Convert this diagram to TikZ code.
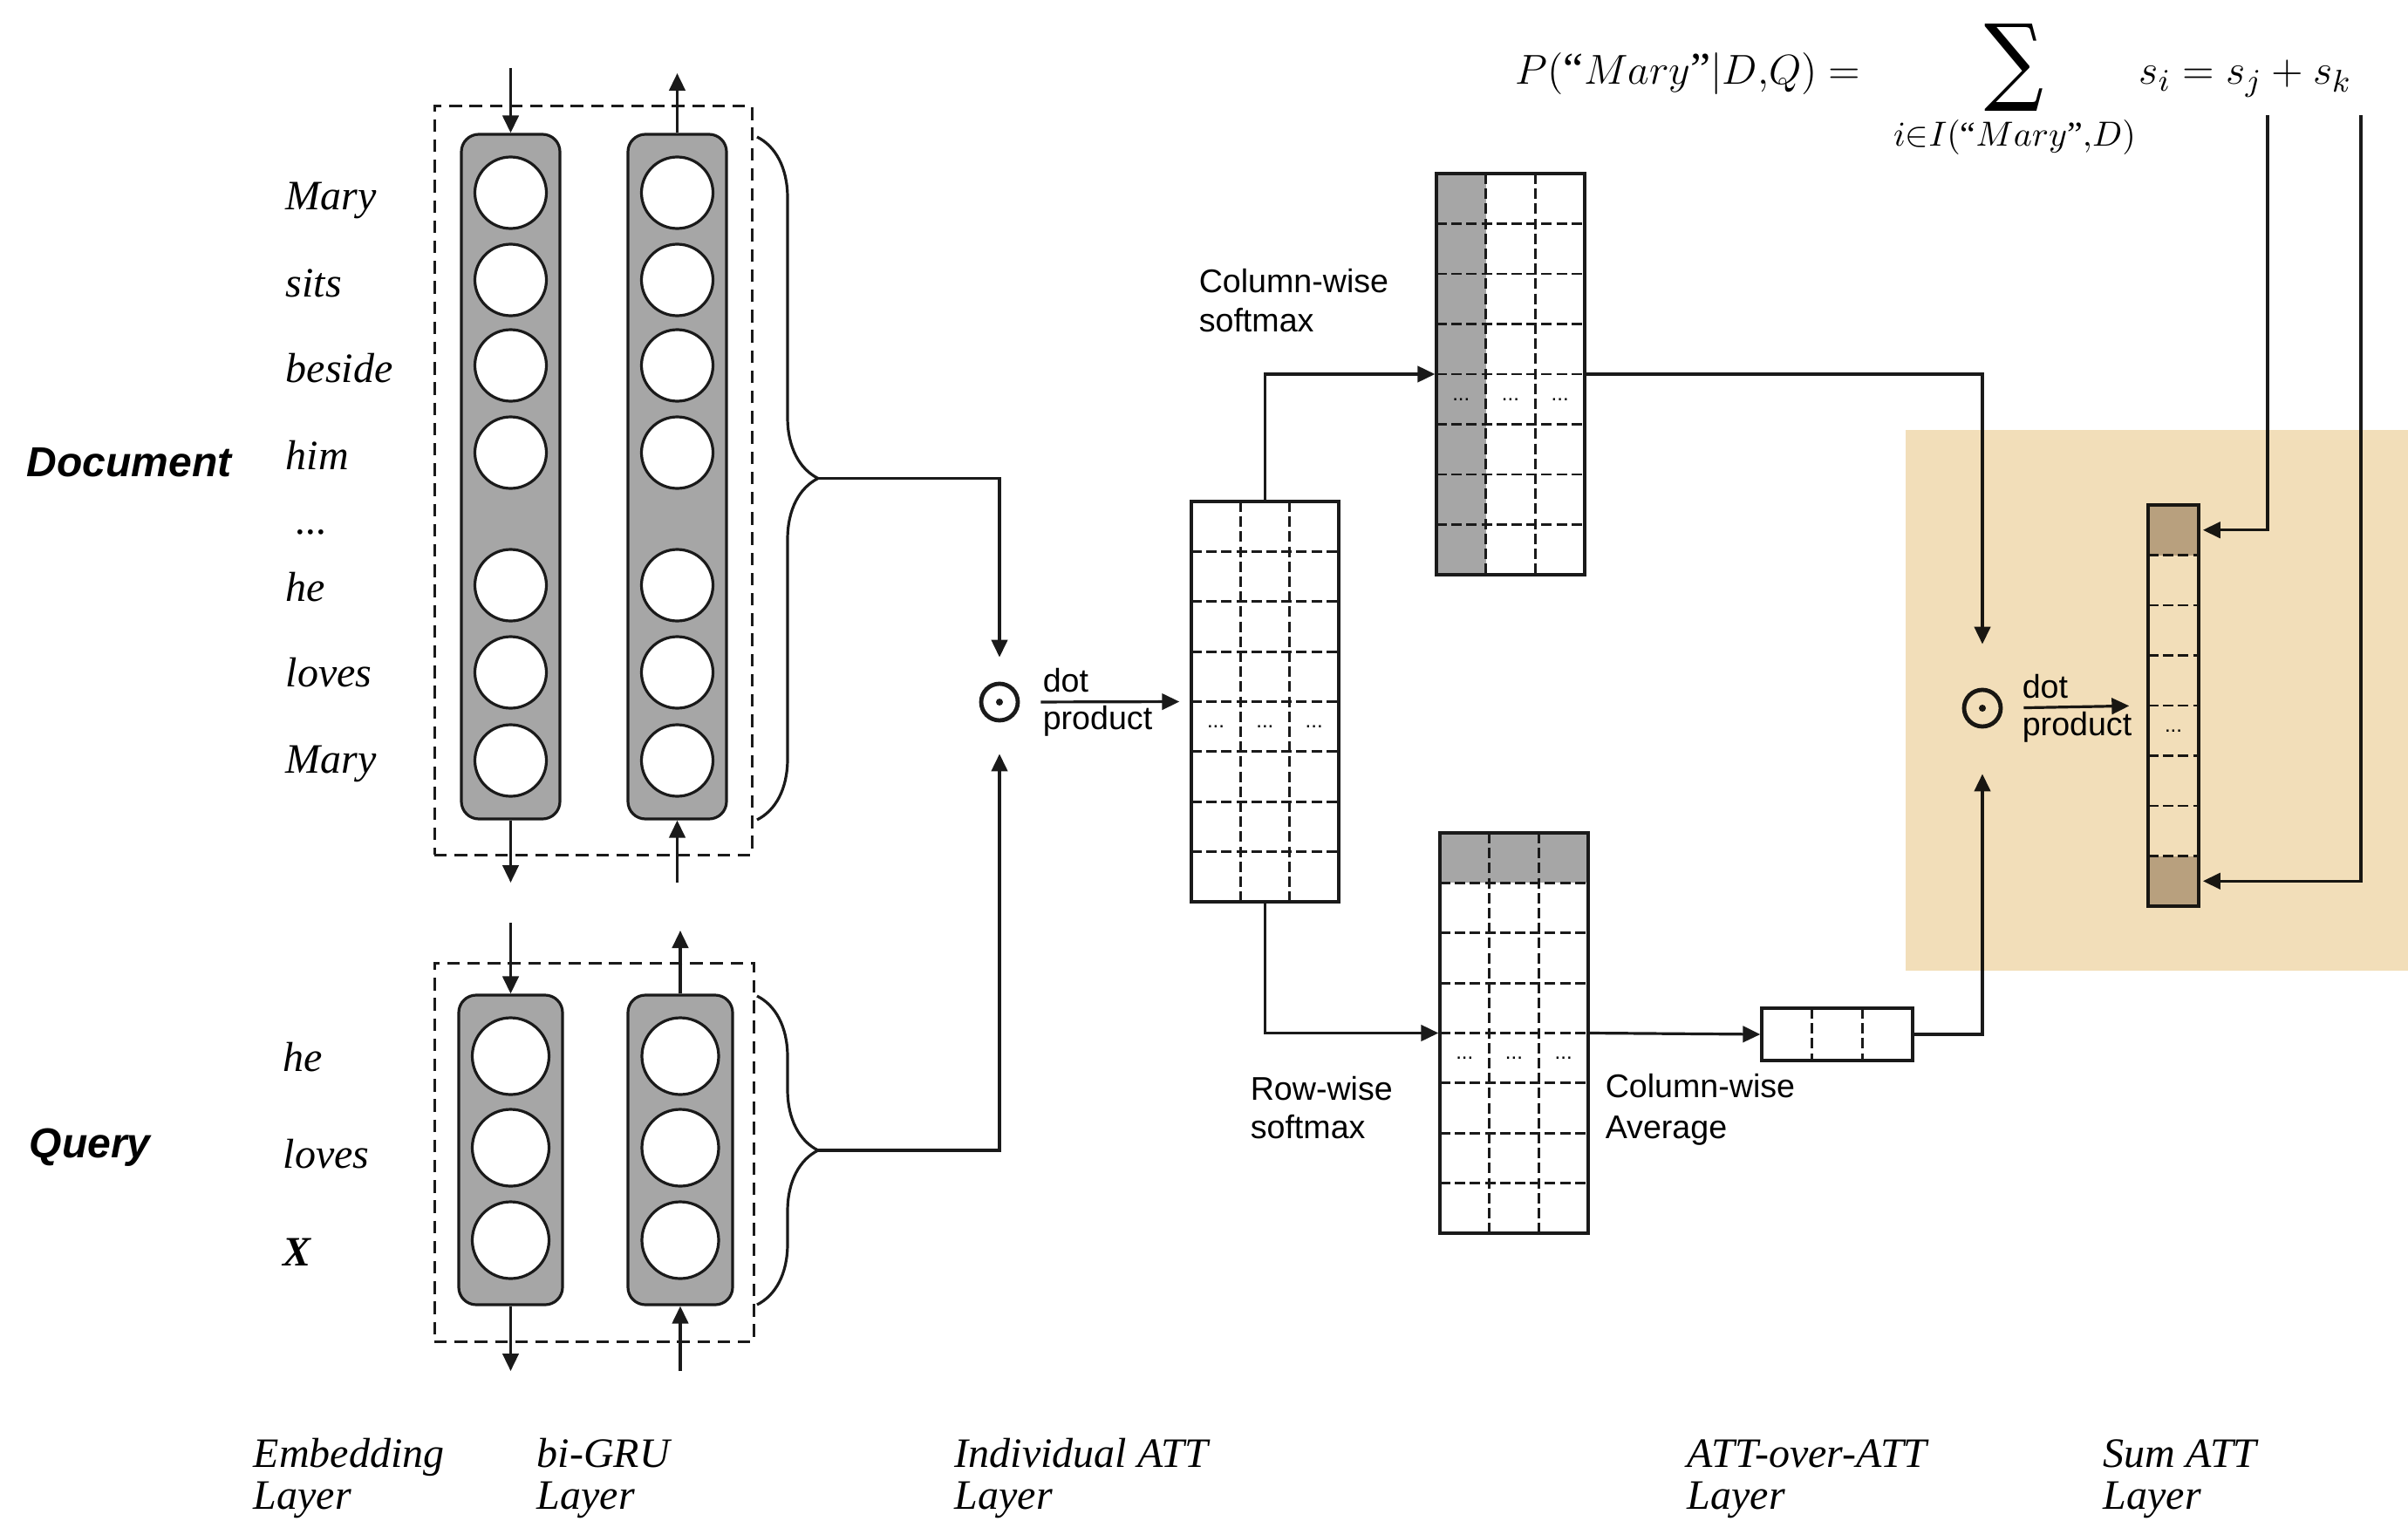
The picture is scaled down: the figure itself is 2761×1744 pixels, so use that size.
\documentclass[tikz,border=0pt]{standalone}
\usepackage{fontspec}
\usepackage{amsmath}
\usepackage{graphicx}
\setmainfont{Liberation Serif}
\setsansfont{Liberation Sans}
\newfontfamily\symfont{DejaVu Serif}
\usetikzlibrary{arrows.meta,decorations.pathreplacing,fit,calc}
\definecolor{grufill}{HTML}{A6A6A6}
\definecolor{cellgray}{HTML}{A6A6A6}
\definecolor{sumcell}{HTML}{C2B8AE}
\definecolor{sumbg}{HTML}{F2DEB9}
\definecolor{ink}{HTML}{1A1A1A}
\tikzset{
  ln/.style={line width=0.8pt, draw=ink},
  arr/.style={ln, -{Triangle[length=5pt,width=4.6pt]}},
  gru/.style={draw=ink, line width=0.8pt, fill=grufill, rounded corners=5pt, inner sep=0pt},
  unitc/.style={draw=ink, circle, fill=white, line width=0.8pt, inner sep=0pt},
  gbox/.style={draw=ink, dash pattern=on 3.6pt off 2.2pt, line width=0.75pt, inner sep=0pt},
  mat/.style={draw=ink, line width=0.85pt, inner sep=0pt},
  gridln/.style={draw=ink, line width=0.7pt, dash pattern=on 3pt off 1.3pt},
  word/.style={font=\fontsize{12}{14}\selectfont\itshape, anchor=base west, inner sep=0pt},
  lab/.style={font=\fontsize{12}{14}\selectfont\itshape, anchor=base west, inner sep=0pt},
  big/.style={font=\fontsize{12}{14}\selectfont\sffamily\bfseries\itshape, anchor=west, inner sep=0pt},
  sanslab/.style={font=\fontsize{9.4}{11}\selectfont\sffamily, anchor=base west, inner sep=0pt},
  cdots/.style={font=\fontsize{6}{6}\selectfont\sffamily, inner sep=0pt},
  odot/.style={circle, draw=ink, line width=1.2pt, minimum size=10.5pt, inner sep=0pt},
  brc/.style={ln, decorate, decoration={brace, amplitude=17.5pt}},
}
\begin{document}
\begin{tikzpicture}[x=0.25pt,y=-0.25pt]
\useasboundingbox (0,0) rectangle (2761,1744);

% ---------------- Document encoder ----------------
\node[gbox, fit={(498,122) (862,980)}] (dbox) {};
\node[gru, fit={(529,154) (642,939)}] (dl) {};
\node[gru, fit={(720,154) (833,939)}] (dr) {};
\foreach \y [count=\i] in {221,321,419,519,671,771,872} {
  \node[unitc, minimum size=20.5pt] (dlc\i) at (585.5,\y) {};
  \node[unitc, minimum size=20.5pt] (drc\i) at (776.5,\y) {};
}
\node[big] (doc) at (30,530) {Document};
\node[word] (w1) at (327,240) {Mary};
\node[word] (w2) at (327,340) {sits};
\node[word] (w3) at (327,438) {beside};
\node[word] (w4) at (327,538) {him};
\node[word] (w5) at (339,612) {...};
\node[word] (w6) at (327,689) {he};
\node[word] (w7) at (327,787) {loves};
\node[word] (w8) at (327,886) {Mary};

\coordinate (dlin) at (585.5,78);
\coordinate (drout) at (776.5,84);
\coordinate (dlout) at (585.5,1012);
\coordinate (drin) at (776.5,1012);
\draw[arr] (dlin) -- (dl.north);
\draw[arr] (dr.north) -- (drout);
\draw[arr] (dl.south) -- (dlout);
\draw[arr] (drin) -- (dr.south);
\draw[brc] (868,157) -- (868,940);
\coordinate (dtip) at (938,548.5);

% ---------------- Query encoder ----------------
\node[gbox, fit={(498,1104) (864,1538)}] (qbox) {};
\node[gru, fit={(526,1141) (645,1496)}] (ql) {};
\node[gru, fit={(720,1141) (840,1496)}] (qr) {};
\foreach \y [count=\i] in {1211,1316,1422} {
  \node[unitc, minimum size=22pt] (qlc\i) at (585.5,\y) {};
  \node[unitc, minimum size=22pt] (qrc\i) at (780,\y) {};
}
\node[big] (qry) at (33,1316) {Query};
\node[word] (q1) at (324,1228) {he};
\node[word] (q2) at (324,1339) {loves};
\node[word, font=\fontsize{12}{14}\selectfont\itshape\bfseries] (q3) at (324,1451) {X};

\coordinate (qlin) at (585.5,1058);
\coordinate (qrout) at (780,1067);
\coordinate (qlout) at (585.5,1572);
\coordinate (qrin) at (780,1572);
\draw[arr] (qlin) -- (ql.north);
\draw[arr] (qr.north) -- (qrout);
\draw[arr] (ql.south) -- (qlout);
\draw[arr] (qrin) -- (qr.south);
\draw[brc] (868,1142) -- (868,1496);
\coordinate (qtip) at (938,1319);

% ---------------- Individual ATT ----------------
\node[odot] (dot1) at (1146,805) {};
\fill[ink] (dot1.center) circle (1pt);
\draw[arr, shorten >=7pt] (dtip) -| (dot1);
\draw[arr, shorten >=9pt] (qtip) -| (dot1);
\node[sanslab] (dp1a) at (1195,793) {dot};
\node[sanslab] (dp1b) at (1195,836) {product};

% matrix M
\foreach \k in {1,2} \draw[gridln] ({1366+\k*56.33},575) -- ({1366+\k*56.33},1034);
\foreach \k in {1,...,7} \draw[gridln] (1366,{575+\k*57.375}) -- (1535,{575+\k*57.375});
\node[mat, fit={(1366,575) (1535,1034)}] (M) {};
\foreach \k in {0,1,2} \node[cdots] at ({1394+\k*56.33},833) {...};
\draw[arr, shorten <=6pt, shorten >=3pt] (dot1.east) -- (M.west);

% ---------------- ATT-over-ATT ----------------
\fill[cellgray] (1647,199) rectangle (1703.7,659);
\foreach \k in {1,2} \draw[gridln] ({1647+\k*56.67},199) -- ({1647+\k*56.67},659);
\foreach \k in {1,...,7} \draw[gridln] (1647,{199+\k*57.5}) -- (1817,{199+\k*57.5});
\node[mat, fit={(1647,199) (1817,659)}] (T) {};
\foreach \k in {0,1,2} \node[cdots] at ({1675.3+\k*56.67},457.75) {...};
\node[sanslab] (cs1) at (1374,335) {Column-wise};
\node[sanslab] (cs2) at (1374,380) {softmax};
\draw[arr] (M.north) |- (T.west);

\fill[cellgray] (1651,955) rectangle (1821,1012.4);
\foreach \k in {1,2} \draw[gridln] ({1651+\k*56.67},955) -- ({1651+\k*56.67},1414);
\foreach \k in {1,...,7} \draw[gridln] (1651,{955+\k*57.375}) -- (1821,{955+\k*57.375});
\node[mat, fit={(1651,955) (1821,1414)}] (B) {};
\foreach \k in {0,1,2} \node[cdots] at ({1679.3+\k*56.67},1213.2) {...};
\node[sanslab] (rs1) at (1433,1261) {Row-wise};
\node[sanslab] (rs2) at (1433,1305) {softmax};
\draw[arr] (M.south) |- (B.west);

\foreach \k in {1,2} \draw[gridln] ({2020+\k*57.67},1156) -- ({2020+\k*57.67},1216);
\node[mat, fit={(2020,1156) (2193,1216)}] (V) {};
\node[sanslab] (ca1) at (1840,1258) {Column-wise};
\node[sanslab] (ca2) at (1840,1305) {Average};
\draw[arr] (B.east) -- (V.west);

% ---------------- Sum ATT ----------------
\node[odot] (dot2) at (2273,812) {};
\fill[ink] (dot2.center) circle (1pt);
\draw[arr, shorten >=12.5pt] (T.east) -| (dot2);
\draw[arr, shorten >=13pt] (V.east) -| (dot2);
\node[sanslab] (dp2a) at (2318,800) {dot};
\node[sanslab] (dp2b) at (2318,843) {product};

\node[fit={(2463,579) (2521,636.5)}, inner sep=0pt, fill=sumcell] (S1) {};
\node[fit={(2463,981.5) (2521,1039)}, inner sep=0pt, fill=sumcell] (S8) {};
\foreach \k in {1,...,7} \draw[gridln] (2463,{579+\k*57.5}) -- (2521,{579+\k*57.5});
\node[mat, fit={(2463,579) (2521,1039)}] (S) {};
\node[cdots] at (2492,837.75) {...};
\draw[arr, shorten <=6pt, shorten >=5pt] (dot2.east) -- (S.west);

\node[anchor=base west, font=\fontsize{13}{15}\selectfont, inner sep=0pt] (fP) at (1737,97) {$P(\text{“}Mary\text{”}|D{,}Q) =$};
\node[inner sep=0pt] (fsum) at (2309,78) {\resizebox*{17pt}{25pt}{\symfont ∑}};
\node[anchor=base, font=\fontsize{10}{12}\selectfont, inner sep=0pt] (fsub) at (2310,167) {$i{\in}I(\text{“}Mary\text{”}{,}D)$};
\node[anchor=base west, font=\fontsize{13}{15}\selectfont, inner sep=0pt] (fs) at (2452,97) {$s_i=s_j+s_k$};
\coordinate (sjtop) at (2600,132);
\coordinate (sktop) at (2707,132);
\draw[arr, shorten >=1pt] (sjtop) |- (S1.east);
\draw[arr, shorten >=1pt] (sktop) |- (S8.east);

\fill[sumbg, blend mode=multiply] (2185,493) rectangle (2761,1113);

% ---------------- layer labels ----------------
\node[lab] (l1a) at (290,1682) {Embedding};
\node[lab] (l1b) at (290,1730) {Layer};
\node[lab] (l2a) at (615,1682) {bi-GRU};
\node[lab] (l2b) at (615,1730) {Layer};
\node[lab] (l3a) at (1094,1682) {Individual ATT};
\node[lab] (l3b) at (1094,1730) {Layer};
\node[lab] (l4a) at (1934,1682) {ATT-over-ATT};
\node[lab] (l4b) at (1934,1730) {Layer};
\node[lab] (l5a) at (2411,1682) {Sum ATT};
\node[lab] (l5b) at (2411,1730) {Layer};
\end{tikzpicture}
\end{document}
